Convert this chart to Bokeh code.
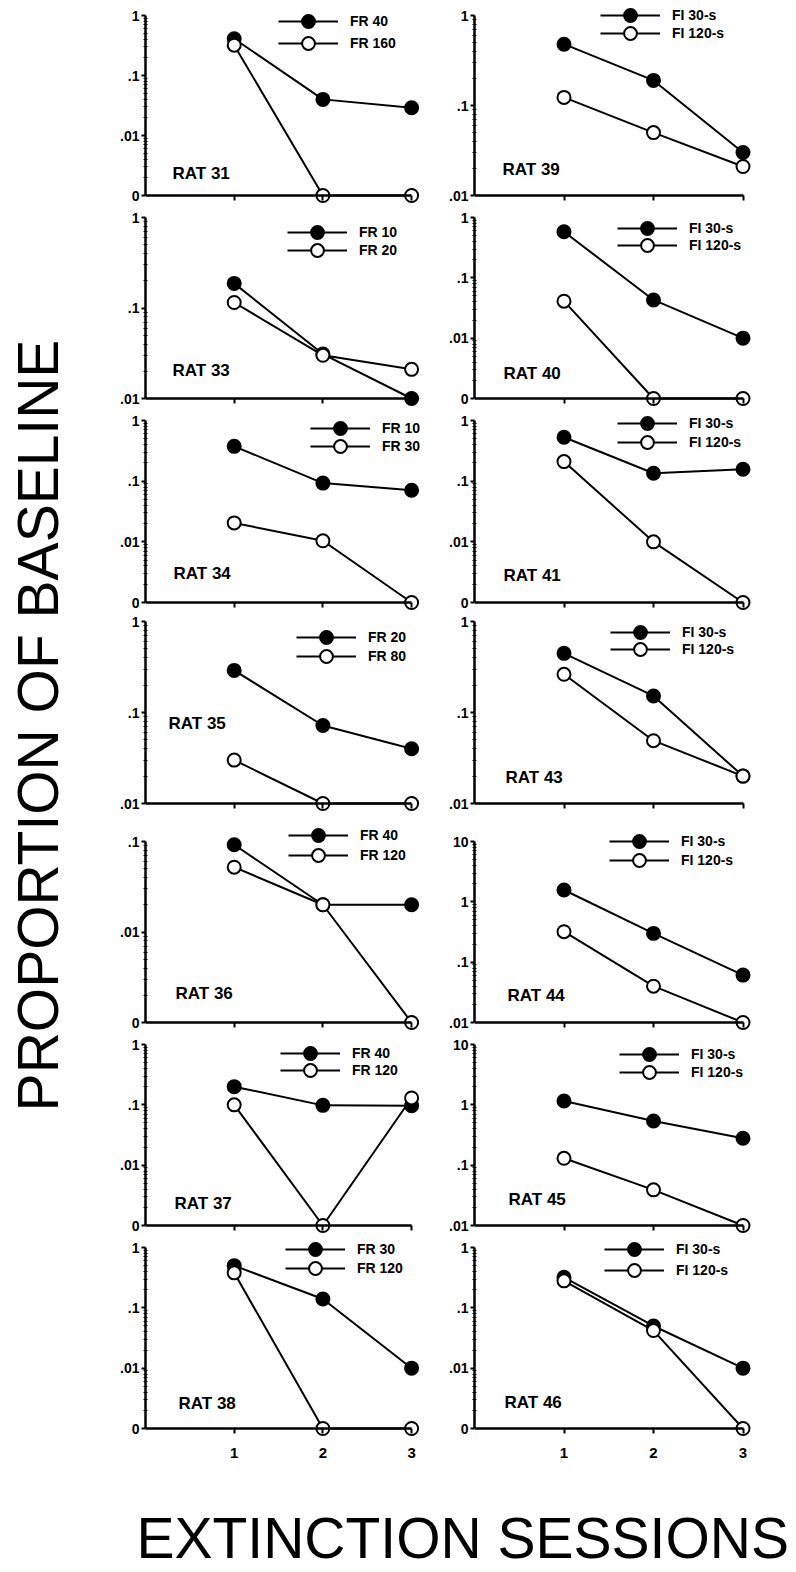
import math
from bokeh.plotting import figure
from bokeh.models import Range1d, FixedTicker, Legend, LegendItem, Label, LinearAxis
from bokeh.layouts import row, column
from bokeh.embed import file_html
from bokeh.resources import INLINE

# ---------------- data ----------------
SESSIONS = [1, 2, 3]
SESSION_LABELS = ["1", "2", "3"]

RATS = ["RAT 31", "RAT 39", "RAT 33", "RAT 40", "RAT 34", "RAT 41", "RAT 35",
        "RAT 43", "RAT 36", "RAT 44", "RAT 37", "RAT 45", "RAT 38", "RAT 46"]
SERIES_A = ["FR 40", "FI 30-s", "FR 10", "FI 30-s", "FR 10", "FI 30-s", "FR 20",
            "FI 30-s", "FR 40", "FI 30-s", "FR 40", "FI 30-s", "FR 30", "FI 30-s"]
SERIES_B = ["FR 160", "FI 120-s", "FR 20", "FI 120-s", "FR 30", "FI 120-s", "FR 80",
            "FI 120-s", "FR 120", "FI 120-s", "FR 120", "FI 120-s", "FR 120", "FI 120-s"]

# filled circles (series A)
VALUES_A = [
    [0.41, 0.040, 0.029],   # RAT 31
    [0.48, 0.19, 0.030],    # RAT 39
    [0.187, 0.031, 0.010],  # RAT 33
    [0.58, 0.043, 0.010],   # RAT 40
    [0.375, 0.093, 0.071],  # RAT 34
    [0.53, 0.135, 0.157],   # RAT 41
    [0.29, 0.072, 0.040],   # RAT 35
    [0.447, 0.152, 0.020],  # RAT 43
    [0.092, 0.020, 0.020],  # RAT 36
    [1.57, 0.30, 0.061],    # RAT 44
    [0.20, 0.098, 0.097],   # RAT 37
    [1.16, 0.54, 0.28],     # RAT 45
    [0.50, 0.14, 0.010],    # RAT 38
    [0.32, 0.050, 0.010],   # RAT 46
]
# open circles (series B); 0 = zero responding
VALUES_B = [
    [0.32, 0, 0],           # RAT 31
    [0.123, 0.050, 0.021],  # RAT 39
    [0.115, 0.030, 0.021],  # RAT 33
    [0.041, 0, 0],          # RAT 40
    [0.0205, 0.0104, 0],    # RAT 34
    [0.21, 0.010, 0],       # RAT 41
    [0.030, 0.010, 0.010],  # RAT 35
    [0.263, 0.049, 0.020],  # RAT 43
    [0.052, 0.020, 0],      # RAT 36
    [0.32, 0.040, 0.010],   # RAT 44
    [0.10, 0, 0.13],        # RAT 37
    [0.13, 0.039, 0.010],   # RAT 45
    [0.38, 0, 0],           # RAT 38
    [0.28, 0.042, 0],       # RAT 46
]
Y_TOP = [1, 1, 1, 1, 1, 1, 1, 1, 0.1, 10, 1, 10, 1, 1]
HAS_ZERO = [True, False, False, True, True, True, False, False, True, False, True, False, True, True]
TICK_VALUES = [0.001, 0.01, 0.1, 1, 10]
TICK_LABELS = ["0", ".01", ".1", "1", "10"]
ZERO_LEVEL = 0.001   # where "0" sits on the log axis

Y_TITLE = "PROPORTION OF BASELINE"
X_TITLE = "EXTINCTION SESSIONS"

# ---------------- layout (page pixels) ----------------
FONT = "Liberation Sans"
ROW_EDGES = [0, 208, 412, 614, 822, 1036, 1238, 1475]
AXIS_TOP = [15, 217, 420, 621, 841, 1044, 1247]
AXIS_BOTTOM = [195, 398, 602, 803, 1022, 1225, 1428]
TOP_PAD = [9, 2, 6, 2, 15, 2, 7]
PAD = 8
STRIP_W = 108
COL_X0 = [108, 440]
COL_W = [332, 348]
AXIS_LEFT = [145, 474]
PX_PER_SESSION = [88.7, 89.5]
X_END = 3.1
GLYPH_H = 32
BOTTOM_W = 796
BOTTOM_H = 95
LEG_X = [133, 126, 142, 143, 165, 143, 151, 136, 143, 135, 135, 145, 140, 130]
LEG_ROW1 = [6, 0, 15, 11, 8, 3, 16, 11, -6, 0, 9, 10, 2, 2]
LEG_PITCH = [22, 18, 18, 17, 18, 19, 19, 17, 20, 19, 17, 18, 19, 21]
LAB_X = [27, 28, 27, 29, 28, 29, 23, 31, 30, 33, 29, 34, 33, 30]
LAB_Y = [22, 26, 28, 25, 29, 27, 80, 26, 29, 27, 22, 26, 25, 26]


def make_panel(i):
    r, c = divmod(i, 2)
    h = ROW_EDGES[r + 1] - ROW_EDGES[r]
    axis_h = AXIS_BOTTOM[r] - AXIS_TOP[r]
    tp = TOP_PAD[r]
    frame_h = axis_h + PAD + tp
    top_b = AXIS_TOP[r] - ROW_EDGES[r] - tp
    bot_b = h - top_b - frame_h
    pps = PX_PER_SESSION[c]
    frame_w = round(X_END * pps)
    left_b = AXIS_LEFT[c] - COL_X0[c]
    right_b = COL_W[c] - left_b - frame_w

    lo = ZERO_LEVEL if HAS_ZERO[i] else 0.01
    hi = Y_TOP[i]
    ppd = axis_h / math.log10(hi / lo)
    y0 = lo / 10 ** (PAD / ppd)
    y1 = hi * 10 ** (tp / ppd)

    p = figure(width=COL_W[c], height=h, x_range=Range1d(0, frame_w / pps),
               y_range=Range1d(y0, y1), y_axis_type="log",
               min_border_left=left_b, min_border_right=right_b,
               min_border_top=top_b, min_border_bottom=bot_b,
               toolbar_location=None, output_backend="svg")
    p.xgrid.visible = False
    p.ygrid.visible = False
    p.outline_line_color = None
    p.background_fill_color = "white"
    p.border_fill_color = "white"

    majors = [t for t in TICK_VALUES if lo - 1e-12 <= t <= hi + 1e-12]
    minors = [m * d for d in majors if d < hi for m in range(2, 10)]
    yax = p.yaxis[0]
    yax.ticker = FixedTicker(ticks=majors, minor_ticks=minors)
    yax.major_label_overrides = {t: TICK_LABELS[TICK_VALUES.index(t)] for t in majors}
    yax.bounds = (lo, hi)
    yax.axis_line_width = 2.5
    yax.major_tick_line_width = 2
    yax.major_tick_out = 4
    yax.major_tick_in = 0
    yax.minor_tick_in = 2
    yax.minor_tick_out = 2
    yax.minor_tick_line_width = 1
    yax.major_label_standoff = 2
    yax.major_label_text_font = FONT
    yax.major_label_text_font_style = "bold"
    yax.major_label_text_font_size = "14px"
    yax.major_label_text_color = "black"

    # baseline axis drawn at the "0"/lowest level
    xax = p.xaxis[0]
    xax.ticker = FixedTicker(ticks=SESSIONS, minor_ticks=[])
    xax.bounds = (0, 3)
    xax.fixed_location = lo
    xax.axis_line_width = 2.5
    xax.major_tick_line_width = 2
    xax.major_tick_out = 5
    xax.major_tick_in = 0
    xax.major_label_overrides = {s: "" for s in SESSIONS}

    if r == 6:
        lab_ax = LinearAxis(ticker=FixedTicker(ticks=SESSIONS, minor_ticks=[]),
                            major_label_overrides={s: l for s, l in zip(SESSIONS, SESSION_LABELS)},
                            axis_line_color=None, major_tick_line_color=None,
                            minor_tick_line_color=None, major_tick_out=0, major_tick_in=0,
                            major_label_standoff=11, major_label_text_font=FONT,
                            major_label_text_font_style="bold",
                            major_label_text_font_size="15px",
                            major_label_text_color="black")
        p.add_layout(lab_ax, "below")

    ya = [v if v > 0 else lo for v in VALUES_A[i]]
    yb = [v if v > 0 else lo for v in VALUES_B[i]]
    la = p.line(SESSIONS, ya, line_width=2, color="black")
    lb = p.line(SESSIONS, yb, line_width=2, color="black")
    sa = p.scatter(SESSIONS, ya, marker="circle", size=13, fill_color="black",
                   line_color="black", line_width=2)
    sb = p.scatter(SESSIONS, yb, marker="circle", size=13, fill_color="white",
                   line_color="black", line_width=2)

    # one legend per entry so each row can be placed exactly
    for k, (lab, rends) in enumerate([(SERIES_A[i], [la, sa]), (SERIES_B[i], [lb, sb])]):
        row_center = tp + LEG_ROW1[i] + k * LEG_PITCH[i]      # px below frame top
        loc_y = frame_h - (row_center - GLYPH_H / 2) - GLYPH_H
        legend = Legend(items=[LegendItem(label=lab, renderers=rends)],
                        location=(LEG_X[i], loc_y), glyph_width=60,
                        glyph_height=GLYPH_H, label_height=14, label_standoff=12,
                        padding=0, margin=0, spacing=0,
                        border_line_color=None, background_fill_alpha=0,
                        label_text_font=FONT, label_text_font_style="bold",
                        label_text_font_size="14px", label_text_color="black")
        p.add_layout(legend)

    p.add_layout(Label(x=LAB_X[i] / pps, y=lo * 10 ** (LAB_Y[i] / ppd), text=RATS[i],
                       text_font=FONT, text_font_style="bold", text_font_size="17px",
                       text_color="black", text_baseline="middle", text_align="left"))
    return p


panels = [make_panel(i) for i in range(14)]
rows = [row(panels[2 * k], panels[2 * k + 1]) for k in range(7)]
grid = column(*rows)

strip_h = ROW_EDGES[-1] - ROW_EDGES[0]
strip = figure(width=STRIP_W, height=strip_h, x_range=Range1d(0, STRIP_W), y_range=Range1d(0, strip_h),
               min_border=0, x_axis_location=None, y_axis_location=None,
               toolbar_location=None, output_backend="svg")
strip.xgrid.visible = False
strip.ygrid.visible = False
strip.outline_line_color = None
strip.add_layout(Label(x=37, y=strip_h - 725, text=Y_TITLE, angle=math.pi / 2,
                       text_align="center", text_baseline="middle", text_font=FONT,
                       text_font_size="57px", text_color="black"))

bottom = figure(width=BOTTOM_W, height=BOTTOM_H, x_range=Range1d(0, BOTTOM_W), y_range=Range1d(0, BOTTOM_H),
                min_border=0, x_axis_location=None, y_axis_location=None,
                toolbar_location=None, output_backend="svg")
bottom.xgrid.visible = False
bottom.ygrid.visible = False
bottom.outline_line_color = None
bottom.add_layout(Label(x=136, y=BOTTOM_H - (1537 - ROW_EDGES[-1]), text=X_TITLE, text_align="left",
                        text_baseline="middle", text_font=FONT, text_font_size="57px",
                        text_color="black"))

layout = column(row(strip, grid), bottom)
open("out.html", "w").write(file_html(layout, INLINE))
